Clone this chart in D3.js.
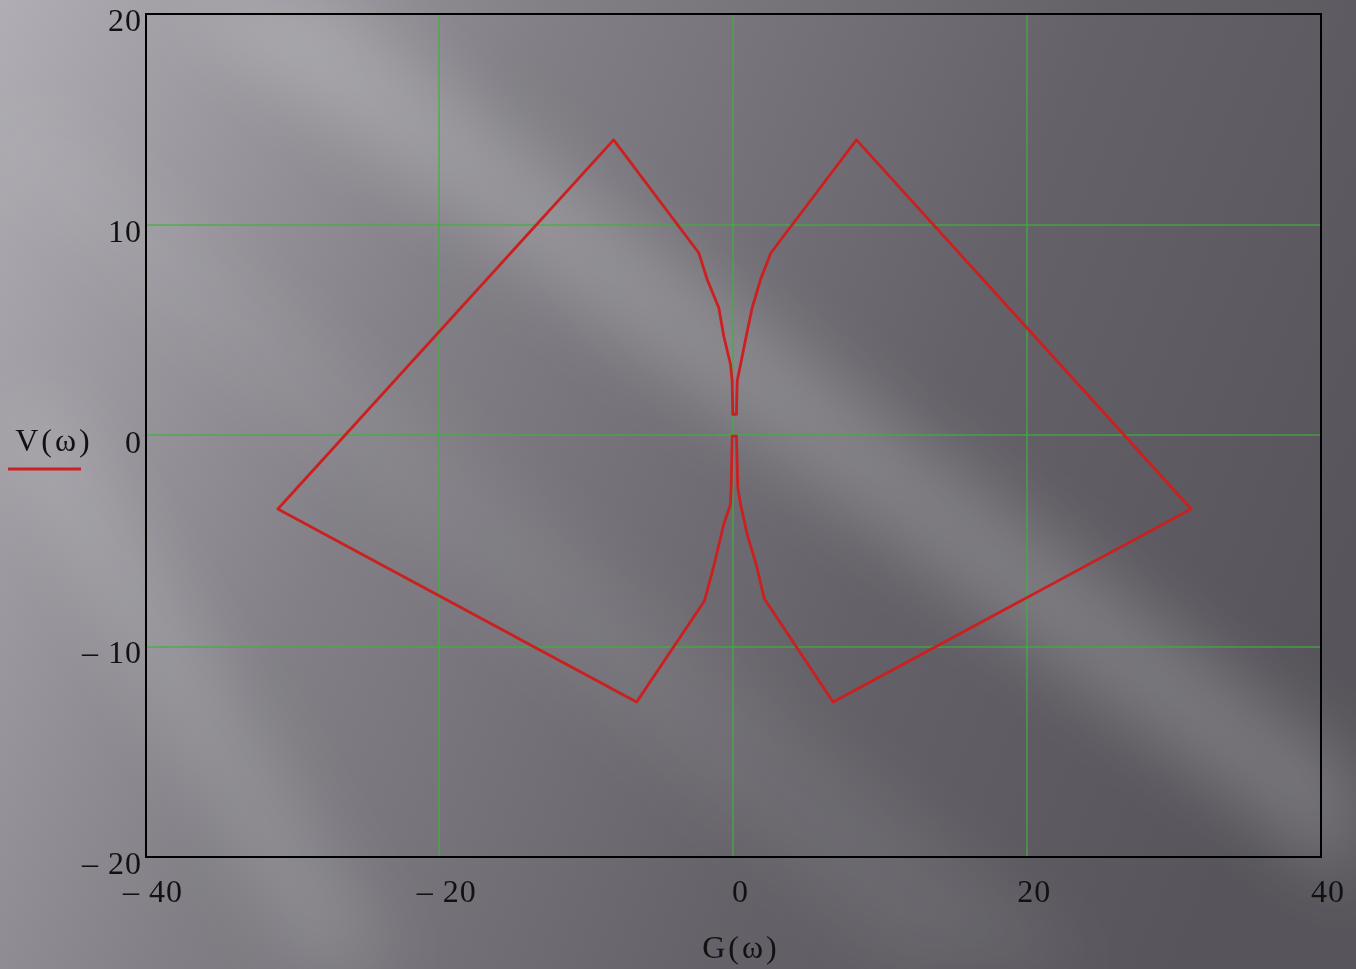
<!DOCTYPE html>
<html lang="en">
<head>
<meta charset="UTF-8">
<title>V(ω) vs G(ω)</title>
<script src="https://d3js.org/d3.v7.min.js"></script>
<style>
  html, body { margin: 0; padding: 0; overflow: hidden; }
  text { font-family: "Liberation Serif", "DejaVu Serif", serif; fill: #111; }
</style>
</head>
<body>
<div id="chart"></div>
<script>
// curve points, closed path traced around the two lobes
const G = [-0.05, -0.09, -0.2, -0.66, -1.0, -1.79, -2.36, -8.16, -31.02, -6.6,
           -1.97, -1.34, -0.66, -0.2, -0.16, -0.09,
           0.2, 0.29, 0.48, 0.93, 1.56, 2.1, 6.78, 31.16, 8.37,
           2.54, 1.84, 1.27, 0.82, 0.48, 0.25, 0.2];
const V = [1.0, 2.58, 3.37, 4.71, 6.06, 7.4, 8.66, 14.03, -3.49, -12.65,
           -7.84, -6.19, -4.2, -3.26, -2.47, -0.03,
           -0.03, -2.47, -3.26, -4.68, -6.15, -7.75, -12.65, -3.49, 14.03,
           8.66, 7.4, 6.06, 4.55, 3.37, 2.58, 1.0];
const xTicks = [-40, -20, 0, 20, 40];
const yTicks = [-20, -10, 0, 10, 20];
const xLabel = "G(\u03C9)";
const yLabel = "V(\u03C9)";

const width = 1356, height = 969;
const svg = d3.select("#chart").append("svg")
    .attr("width", width).attr("height", height);

// background: grey slide gradient with soft diagonal light streaks
const defs = svg.append("defs");
const bg = defs.append("linearGradient").attr("id", "bg")
    .attr("gradientUnits", "userSpaceOnUse")
    .attr("x1", 0).attr("y1", 0).attr("x2", 1356).attr("y2", 560);
bg.append("stop").attr("offset", 0).attr("stop-color", "#b0aeb4");
bg.append("stop").attr("offset", 0.35).attr("stop-color", "#828086");
bg.append("stop").attr("offset", 0.7).attr("stop-color", "#646268");
bg.append("stop").attr("offset", 1).attr("stop-color", "#57555b");
defs.append("filter").attr("id", "blur")
    .attr("x", "-50%").attr("y", "-50%").attr("width", "200%").attr("height", "200%")
    .append("feGaussianBlur").attr("stdDeviation", 35);

svg.append("rect").attr("width", width).attr("height", height).attr("fill", "url(#bg)");
const streaks = [
  { pts: [[170, 0], [330, 0], [1356, 770], [1356, 890]], op: 0.2 },
  { pts: [[0, 430], [50, 390], [400, 969], [300, 969]], op: 0.14 },
  { pts: [[0, 160], [40, 110], [1100, 969], [900, 969]], op: 0.07 }
];
svg.append("g").attr("filter", "url(#blur)")
  .selectAll("path").data(streaks).join("path")
    .attr("d", d => "M" + d.pts.join("L") + "Z")
    .attr("fill", "#ffffff")
    .attr("opacity", d => d.op);

const margin = { left: 146, right: 35, top: 14, bottom: 112 };
const x = d3.scaleLinear().domain([-40, 40]).range([margin.left, width - margin.right]);
const y = d3.scaleLinear().domain([-20, 20]).range([height - margin.bottom, margin.top]);
// snap to even pixel pairs so the thin green lines keep their colour
const px = v => Math.floor(v / 2) * 2 + 1;

// grid lines
const grid = svg.append("g").attr("stroke", "#3cb03c").attr("stroke-width", 2)
    .attr("stroke-opacity", 0.6);
grid.selectAll(".gx").data(xTicks.slice(1, -1)).join("line")
    .attr("x1", d => px(x(d))).attr("x2", d => px(x(d)))
    .attr("y1", y(20)).attr("y2", y(-20));
grid.selectAll(".gy").data(yTicks.slice(1, -1)).join("line")
    .attr("x1", x(-40)).attr("x2", x(40))
    .attr("y1", d => px(y(d))).attr("y2", d => px(y(d)));

// curve
const line = d3.line().x(d => x(d[0])).y(d => y(d[1])).curve(d3.curveLinearClosed);
svg.append("path")
    .datum(G.map((g, i) => [g, V[i]]))
    .attr("d", line)
    .attr("fill", "none")
    .attr("stroke", "#cc1f1f")
    .attr("stroke-width", 2.8)
    .attr("stroke-linejoin", "round");

// frame
svg.append("rect")
    .attr("x", x(-40)).attr("y", y(20))
    .attr("width", x(40) - x(-40)).attr("height", y(-20) - y(20))
    .attr("fill", "none").attr("stroke", "#000").attr("stroke-width", 2);

const fmt = d => d < 0 ? "\u2013 " + Math.abs(d) : String(d);

// tick labels
svg.append("g").selectAll("text").data(yTicks).join("text")
    .attr("x", x(-40) - 4).attr("y", d => y(d) + 17)
    .attr("text-anchor", "end").attr("font-size", 32)
    .attr("letter-spacing", 1)
    .style("white-space", "pre")
    .text(fmt);
svg.append("g").selectAll("text").data(xTicks).join("text")
    .attr("x", d => x(d) + 7).attr("y", y(-20) + 45)
    .attr("text-anchor", "middle").attr("font-size", 32)
    .attr("letter-spacing", 1)
    .style("white-space", "pre")
    .text(fmt);

// axis titles
svg.append("text").attr("x", 741).attr("y", 958)
    .attr("text-anchor", "middle").attr("font-size", 32)
    .attr("letter-spacing", 3).text(xLabel);
svg.append("text").attr("x", 54).attr("y", 451)
    .attr("text-anchor", "middle").attr("font-size", 32)
    .attr("letter-spacing", 3).text(yLabel);
svg.append("line").attr("x1", 8).attr("x2", 81).attr("y1", 469).attr("y2", 469)
    .attr("stroke", "#cc1f1f").attr("stroke-width", 2.8);
</script>
</body>
</html>
